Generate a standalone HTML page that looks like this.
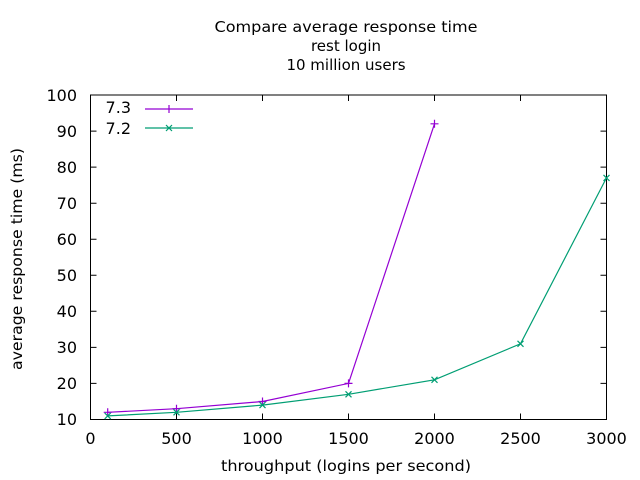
<!DOCTYPE html>
<html><head><meta charset="utf-8"><style>html,body{margin:0;padding:0;background:#fff}svg{display:block}</style></head>
<body>
<svg width="640" height="480" xmlns="http://www.w3.org/2000/svg" font-family="DejaVu Sans, Liberation Sans, sans-serif" font-size="15" fill="#000">
<g text-anchor="middle">
<text x="346" y="32" textLength="263" lengthAdjust="spacingAndGlyphs">Compare average response time</text>
<text x="346" y="51">rest login</text>
<text x="346" y="70">10 million users</text>
</g>
<g stroke="#000" stroke-width="1" fill="none">
<rect x="90.5" y="95" width="516" height="324.5"/>
<path d="M90.5 383.4h6M90.5 347.4h6M90.5 311.3h6M90.5 275.3h6M90.5 239.2h6M90.5 203.2h6M90.5 167.1h6M90.5 131.1h6
M606.5 383.4h-6M606.5 347.4h-6M606.5 311.3h-6M606.5 275.3h-6M606.5 239.2h-6M606.5 203.2h-6M606.5 167.1h-6M606.5 131.1h-6
M176.5 419.5v-6M262.5 419.5v-6M348.5 419.5v-6M434.5 419.5v-6M520.5 419.5v-6
M176.5 95v6M262.5 95v6M348.5 95v6M434.5 95v6M520.5 95v6"/>
</g>
<g text-anchor="end" font-size="16">
<text x="77" y="425">10</text><text x="77" y="389">20</text><text x="77" y="353">30</text><text x="77" y="317">40</text><text x="77" y="281">50</text><text x="77" y="245">60</text><text x="77" y="209">70</text><text x="77" y="173">80</text><text x="77" y="137">90</text><text x="77" y="101">100</text>
</g>
<g text-anchor="middle" font-size="16">
<text x="90.5" y="444">0</text><text x="176.5" y="444">500</text><text x="262.5" y="444">1000</text><text x="348.5" y="444">1500</text><text x="434.5" y="444">2000</text><text x="520.5" y="444">2500</text><text x="606.5" y="444">3000</text>
<text x="346" y="471" font-size="15" textLength="250" lengthAdjust="spacingAndGlyphs">throughput (logins per second)</text>
<text transform="translate(22,259) rotate(-90)" font-size="15" textLength="222" lengthAdjust="spacingAndGlyphs">average response time (ms)</text>
</g>
<g font-size="16" text-anchor="end">
<text x="131" y="113">7.3</text><text x="131" y="134">7.2</text>
</g>
<g fill="none" stroke="#9400d3" stroke-width="1.2">
<path d="M145 109h48M169 105v8"/>
<polyline points="107.7,412.3 176.5,408.7 262.5,401.5 348.5,383.4 434.5,123.8"/>
<path d="M103.7 412.3h8M107.7 408.3v8M172.5 408.7h8M176.5 404.7v8M258.5 401.5h8M262.5 397.5v8M344.5 383.4h8M348.5 379.4v8M430.5 123.8h8M434.5 119.8v8"/>
</g>
<g fill="none" stroke="#009e73" stroke-width="1.2">
<path d="M145 128h48M166 125l6 6M166 131l6-6"/>
<polyline points="107.7,415.9 176.5,412.3 262.5,405.1 348.5,394.3 434.5,379.8 520.5,343.8 606.5,177.9"/>
<path d="M104.7 412.9l6 6M104.7 418.9l6-6M173.5 409.3l6 6M173.5 415.3l6-6M259.5 402.1l6 6M259.5 408.1l6-6M345.5 391.3l6 6M345.5 397.3l6-6M431.5 376.8l6 6M431.5 382.8l6-6M517.5 340.8l6 6M517.5 346.8l6-6M603.5 174.9l6 6M603.5 180.9l6-6"/>
</g>
</svg>
</body></html>
